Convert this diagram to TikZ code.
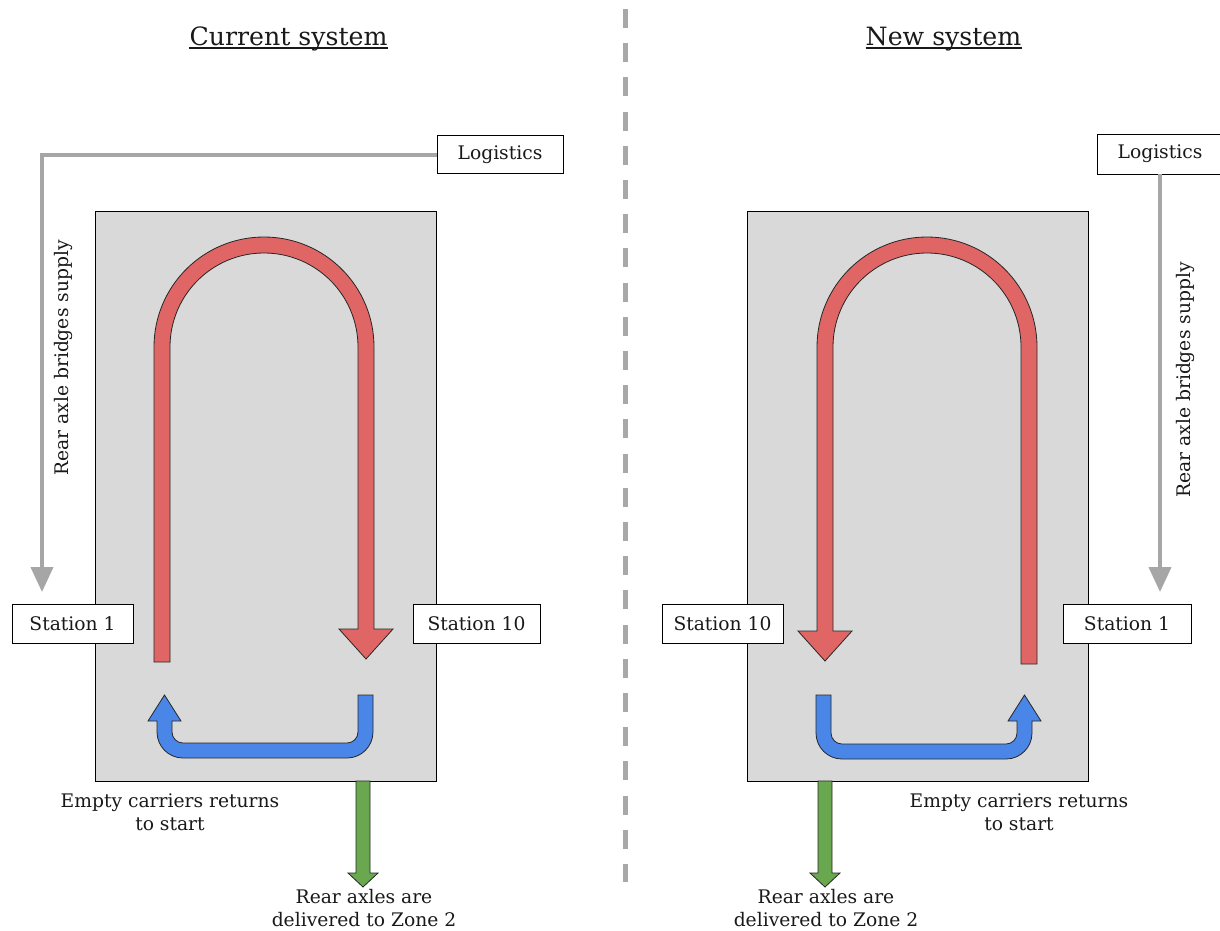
\documentclass[tikz,border=0pt]{standalone}
\usepackage{fontspec}
\setmainfont{DejaVu Serif}
\usetikzlibrary{arrows.meta}

\definecolor{panelgray}{HTML}{D9D9D9}
\definecolor{supplygray}{HTML}{A6A6A6}
\definecolor{dividergray}{HTML}{A8A8A8}
\definecolor{loopred}{HTML}{E06666}
\definecolor{returnblue}{HTML}{4A86E8}
\definecolor{deliverygreen}{HTML}{6AA84F}

\newcommand{\titlefont}{\fontsize{25.2}{29}\selectfont}
\newcommand{\bodyfont}{\fontsize{18.7}{23}\selectfont}

\tikzset{
  panel/.style={draw=black, fill=panelgray, line width=0.8pt, inner sep=0pt,
    minimum width=341pt, minimum height=570pt},
  labelbox/.style={draw=black, fill=white, line width=0.8pt, inner sep=0pt,
    minimum height=38pt, font=\bodyfont, text=black!90},
  heading/.style={inner sep=0pt, anchor=base, font=\titlefont, text=black!90},
  caption/.style={align=center, inner sep=0pt, font=\bodyfont, text=black!90},
  supply/.style={draw=supplygray, line width=4pt,
    -{Triangle[length=25pt, width=22pt]}},
  divider/.style={draw=dividergray, line width=5pt, dash pattern=on 19pt off 15.2pt},
  shapeline/.style={draw=black!85, line width=0.8pt, line join=miter},
}

\begin{document}
\begin{tikzpicture}[x=1pt, y=1pt]
\useasboundingbox (0,0) rectangle (1220,-930);

% ---------- divider between the two layouts ----------
\draw[divider] (625,-9) -- (625,-882);

% ---------- headings ----------
\node[heading] (tL) at (288.5,-45) {Current system};
\node[heading] (tR) at (943.5,-45) {New system};
\draw[line width=1.4pt, black!90] ([yshift=-3pt]tL.base west) -- ([yshift=-3pt]tL.base east);
\draw[line width=1.4pt, black!90] ([yshift=-3pt]tR.base west) -- ([yshift=-3pt]tR.base east);

% ---------- work areas ----------
\node[panel] (boxL) at (265.5,-496) {};
\node[panel] (boxR) at (917.5,-496) {};

% ---------- current system: main loop (red) ----------
\draw[shapeline, fill=loopred]
  (154,-662) -- (154,-347) arc[start angle=180, end angle=0, radius=110pt]
  -- (374,-629) -- (393,-629) -- (366,-659) -- (339,-629) -- (358,-629)
  -- (358,-347) arc[start angle=0, end angle=180, radius=94pt]
  -- (170,-662) -- cycle;

% ---------- current system: empty carrier return (blue) ----------
\draw[shapeline, fill=returnblue]
  (358,-695) -- (358,-732) arc[start angle=0, end angle=-90, radius=11pt]
  -- (183,-743) arc[start angle=-90, end angle=-180, radius=11pt]
  -- (172,-721) -- (181,-721) -- (164.5,-695) -- (148,-721) -- (157,-721)
  -- (157,-732) arc[start angle=180, end angle=270, radius=26pt]
  -- (347,-758) arc[start angle=270, end angle=360, radius=26pt]
  -- (373,-695) -- cycle;

% ---------- new system: same loop, mirrored ----------
\begin{scope}[shift={(1191,0)}, xscale=-1]
\draw[shapeline, fill=loopred]
  (154,-664) -- (154,-347) arc[start angle=180, end angle=0, radius=110pt]
  -- (374,-631) -- (393,-631) -- (366,-661) -- (339,-631) -- (358,-631)
  -- (358,-347) arc[start angle=0, end angle=180, radius=94pt]
  -- (170,-664) -- cycle;
\end{scope}
\begin{scope}[shift={(1189,0)}, xscale=-1]
\draw[shapeline, fill=returnblue]
  (358,-695) -- (358,-733) arc[start angle=0, end angle=-90, radius=11pt]
  -- (183,-744) arc[start angle=-90, end angle=-180, radius=11pt]
  -- (172,-721) -- (181,-721) -- (164.5,-695) -- (148,-721) -- (157,-721)
  -- (157,-733) arc[start angle=180, end angle=270, radius=26pt]
  -- (347,-759) arc[start angle=270, end angle=360, radius=26pt]
  -- (373,-695) -- cycle;
\end{scope}

% ---------- delivery to Zone 2 (green) ----------
\coordinate (gL) at (363,-781);
\coordinate (gR) at (825,-781);
\draw[shapeline, fill=deliverygreen]
  ([xshift=-7pt]gL) -- ++(0,-92) -- ++(-8,0) -- ++(15,-14) -- ++(15,14)
  -- ++(-8,0) -- ([xshift=7pt]gL) -- cycle;
\draw[shapeline, fill=deliverygreen]
  ([xshift=-7pt]gR) -- ++(0,-92) -- ++(-8,0) -- ++(15,-14) -- ++(15,14)
  -- ++(-8,0) -- ([xshift=7pt]gR) -- cycle;

% ---------- supply of rear axle bridges ----------
\node[labelbox, minimum width=126pt] (logL) at (500,-154.5) {Logistics};
\node[labelbox, minimum width=126pt, minimum height=40pt] (logR) at (1160,-154) {Logistics};
\coordinate (supL) at (42,-592);
\coordinate (supR) at (1160,-592);
\draw[supply] (logL.west) -| (supL);
\draw[supply] (logR.south) -- (supR);
\node[caption, rotate=90] (supLtxt) at (63,-358) {Rear axle bridges supply};
\node[caption, rotate=90] (supRtxt) at (1185,-380) {Rear axle bridges supply};

% ---------- stations ----------
\node[labelbox, minimum width=121pt, minimum height=39pt] (s1L)  at (72.5,-623.5) {Station 1};
\node[labelbox, minimum width=127pt, minimum height=39pt] (s10L) at (476.5,-623.5) {Station 10};
\node[labelbox, minimum width=121pt, minimum height=39pt] (s10R) at (722.5,-623.5) {Station 10};
\node[labelbox, minimum width=128pt, minimum height=39pt] (s1R)  at (1127,-623.5) {Station 1};

% ---------- captions ----------
\node[caption] (retL) at (170,-812) {Empty carriers returns\\to start};
\node[caption] (retR) at (1019,-812) {Empty carriers returns\\to start};
\node[caption] (delL) at (364,-908) {Rear axles are\\delivered to Zone 2};
\node[caption] (delR) at (826,-908) {Rear axles are\\delivered to Zone 2};
\end{tikzpicture}
\end{document}
